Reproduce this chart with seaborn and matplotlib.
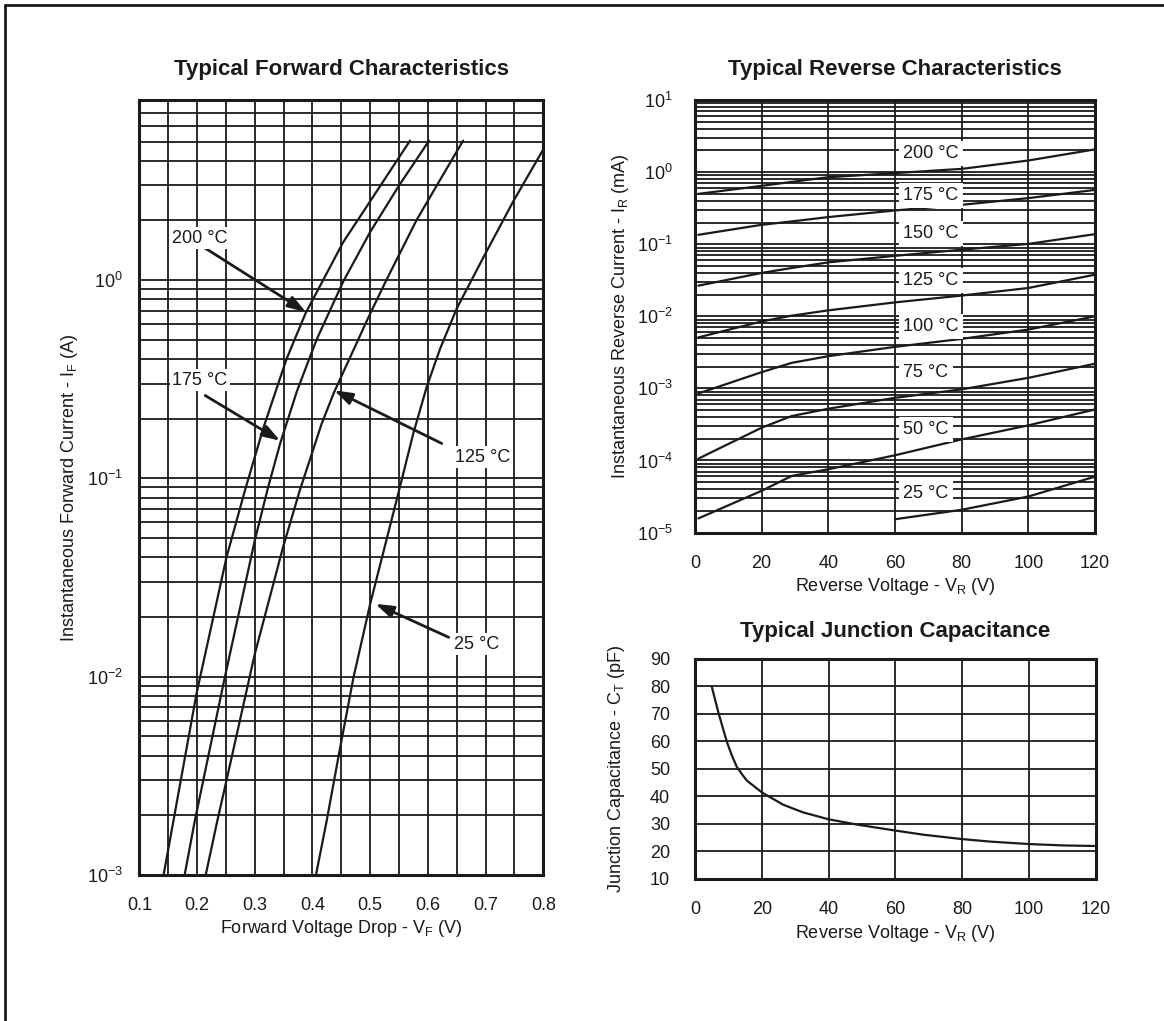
import matplotlib
matplotlib.use('Agg')
import matplotlib.pyplot as plt
import matplotlib.ticker as mticker
from matplotlib.lines import Line2D
import seaborn as sns

# forward characteristics, V_F (V) vs I_F (A)
vf_200 = [0.142, 0.159, 0.199, 0.251, 0.283, 0.315, 0.355, 0.388, 0.453, 0.500, 0.569]
if_200 = [0.001, 0.00187, 0.0082, 0.040, 0.087, 0.18, 0.40, 0.68, 1.55, 2.5, 5.05]
vf_175 = [0.1785, 0.196, 0.248, 0.300, 0.323, 0.344, 0.373, 0.407, 0.453, 0.500, 0.550, 0.602]
if_175 = [0.001, 0.00187, 0.0099, 0.0486, 0.090, 0.150, 0.275, 0.50, 0.98, 1.75, 3.0, 5.05]
vf_125 = [0.215, 0.235, 0.251, 0.300, 0.349, 0.378, 0.416, 0.437, 0.497, 0.528, 0.580, 0.621, 0.661]
if_125 = [0.001, 0.00187, 0.003, 0.013, 0.045, 0.087, 0.189, 0.27, 0.65, 1.0, 2.0, 3.2, 5.05]
vf_25 = [0.406, 0.4245, 0.448, 0.471, 0.500, 0.550, 0.575, 0.598, 0.621, 0.650, 0.696, 0.748, 0.800]
if_25 = [0.001, 0.00187, 0.0044, 0.0099, 0.0233, 0.087, 0.17, 0.29, 0.45, 0.72, 1.3, 2.5, 4.57]

# reverse characteristics, V_R (V) vs I_R (mA)
vr = [1, 20, 29, 40, 60, 80, 100, 120]
ir_200 = [0.5, 0.645, 0.733, 0.85, 0.97, 1.11, 1.45, 2.07]
ir_175 = [0.135, 0.186, 0.207, 0.238, 0.294, 0.352, 0.436, 0.567]
ir_150 = [0.0266, 0.040, 0.0468, 0.056, 0.069, 0.084, 0.101, 0.138]
ir_125 = [0.0051, 0.0085, 0.0102, 0.0121, 0.0156, 0.0194, 0.0247, 0.0378]
ir_100 = [0.00085, 0.00168, 0.00226, 0.0028, 0.00377, 0.00486, 0.00655, 0.010]
ir_75 = [0.000106, 0.000285, 0.000413, 0.000522, 0.00074, 0.00097, 0.0014, 0.0022]
ir_50 = [1.57e-5, 3.8e-5, 6.1e-5, 7.55e-5, 1.18e-4, 1.96e-4, 3.07e-4, 5.1e-4]
vr_25 = [60, 80, 100, 120]
ir_25 = [1.53e-5, 2.07e-5, 3.16e-5, 5.97e-5]
rev_labels = ['200 °C', '175 °C', '150 °C', '125 °C', '100 °C', '75 °C', '50 °C', '25 °C']
rev_label_y = [1.83, 0.469, 0.14, 0.0316, 0.00728, 0.00168, 2.7e-4, 3.5e-5]

# junction capacitance, V_R (V) vs C_T (pF)
vc = [5, 7, 9.5, 11, 12.5, 14, 15.5, 20, 26.4, 32.4, 40, 48.4, 60, 68.4, 80, 88.3, 100, 110.3, 119.5]
ct = [80, 70.5, 60, 55, 50.8, 48.2, 45.8, 41.5, 37.0, 34.2, 31.7, 29.8, 27.6, 26.1, 24.5, 23.6, 22.7, 22.2, 22.0]

sns.set_theme(style='white')
plt.rcParams['font.family'] = ['Liberation Sans', 'DejaVu Sans']
plt.rcParams['mathtext.fontset'] = 'custom'
plt.rcParams['mathtext.rm'] = 'Liberation Sans'
plt.rcParams['mathtext.it'] = 'Liberation Sans:italic'
plt.rcParams['mathtext.bf'] = 'Liberation Sans:bold'
plt.rcParams['text.color'] = 'k'
plt.rcParams['axes.labelcolor'] = 'k'
plt.rcParams['xtick.color'] = 'k'
plt.rcParams['ytick.color'] = 'k'

FS = 13
TFS = 16
fig = plt.figure(figsize=(11.64, 10.21), dpi=100)
ax1 = fig.add_axes([0.1197, 0.1430, 0.3471, 0.7591])
ax2 = fig.add_axes([0.5971, 0.4784, 0.3436, 0.4236])
ax3 = fig.add_axes([0.5971, 0.1391, 0.3442, 0.2155])


def style_axes(ax, xpad=16, ypad=14):
    for s in ax.spines.values():
        s.set_color('k')
        s.set_linewidth(2.2)
        s.set_visible(True)
    ax.tick_params(which='both', length=0, labelsize=FS, colors='k')
    ax.tick_params(axis='x', pad=xpad)
    ax.tick_params(axis='y', pad=ypad)
    ax.grid(True, which='both', color='k', lw=1.3)
    ax.set_axisbelow(True)


# ---- forward
for v, i in [(vf_200, if_200), (vf_175, if_175), (vf_125, if_125), (vf_25, if_25)]:
    sns.lineplot(x=v, y=i, ax=ax1, color='k', lw=1.6, sort=False)
ax1.set_yscale('log')
ax1.set_xlim(0.1, 0.8)
ax1.set_ylim(1e-3, 8.1)
ax1.xaxis.set_major_locator(mticker.MultipleLocator(0.1))
ax1.xaxis.set_minor_locator(mticker.MultipleLocator(0.05))
ax1.xaxis.set_major_formatter(mticker.FormatStrFormatter('%.1f'))
ax1.yaxis.set_major_locator(mticker.FixedLocator([1e-3, 1e-2, 1e-1, 1]))
ax1.yaxis.set_minor_locator(mticker.LogLocator(subs=range(2, 10), numticks=20))
ax1.yaxis.set_minor_formatter(mticker.NullFormatter())
style_axes(ax1, ypad=12)
ax1.set_title('Typical Forward Characteristics', fontsize=TFS, fontweight='bold', pad=18)
ax1.set_xlabel(r'Forward Voltage Drop - V$_\mathregular{F}$ (V)', fontsize=FS)
ax1.set_ylabel(r'Instantaneous Forward Current - I$_\mathregular{F}$ (A)', fontsize=FS)
ax1.xaxis.set_label_coords(0.5, -0.056)
ax1.yaxis.set_label_coords(-0.148, 0.5)

arrow = dict(arrowstyle='-|>,head_length=0.9,head_width=0.3', color='k', lw=2,
             shrinkA=0, shrinkB=0)
box = dict(fc='white', ec='none', pad=2)
fwd_labels = [('200 °C', (0.205, 1.63), (0.214, 1.45), (0.3886, 0.69)),
              ('175 °C', (0.205, 0.313), (0.214, 0.262), (0.344, 0.155)),
              ('125 °C', (0.694, 0.128), (0.624, 0.150), (0.4376, 0.278)),
              ('25 °C', (0.685, 0.0146), (0.636, 0.0158), (0.509, 0.0233))]
for txt, pos, tail, tip in fwd_labels:
    ax1.annotate('', xy=tip, xytext=tail, arrowprops=arrow, zorder=5)
    ax1.text(pos[0], pos[1], txt, ha='center', va='center', fontsize=FS,
             bbox=box, zorder=6)

# ---- reverse
for i in [ir_200, ir_175, ir_150, ir_125, ir_100, ir_75, ir_50]:
    sns.lineplot(x=vr, y=i, ax=ax2, color='k', lw=1.6, sort=False)
sns.lineplot(x=vr_25, y=ir_25, ax=ax2, color='k', lw=1.6, sort=False)
ax2.set_yscale('log')
ax2.set_xlim(0, 120)
ax2.set_ylim(1e-5, 10)
ax2.xaxis.set_major_locator(mticker.MultipleLocator(20))
ax2.yaxis.set_major_locator(mticker.LogLocator(numticks=20))
ax2.yaxis.set_minor_locator(mticker.LogLocator(subs=range(2, 10), numticks=20))
ax2.yaxis.set_minor_formatter(mticker.NullFormatter())
style_axes(ax2, ypad=16)
ax2.set_title('Typical Reverse Characteristics', fontsize=TFS, fontweight='bold', pad=18)
ax2.set_xlabel(r'Reverse Voltage - V$_\mathregular{R}$ (V)', fontsize=FS)
ax2.set_ylabel(r'Instantaneous Reverse Current - I$_\mathregular{R}$ (mA)', fontsize=FS)
ax2.xaxis.set_label_coords(0.5, -0.1)
ax2.yaxis.set_label_coords(-0.16, 0.5)
for txt, y in zip(rev_labels, rev_label_y):
    ax2.text(62.5, y, txt, ha='left', va='center', fontsize=FS,
             bbox=dict(fc='white', ec='none', pad=3), zorder=6)

# ---- capacitance
sns.lineplot(x=vc, y=ct, ax=ax3, color='k', lw=1.6, sort=False)
ax3.set_xlim(0, 120)
ax3.set_ylim(10, 90)
ax3.xaxis.set_major_locator(mticker.MultipleLocator(20))
ax3.yaxis.set_major_locator(mticker.MultipleLocator(10))
style_axes(ax3, ypad=18)
ax3.set_title('Typical Junction Capacitance', fontsize=TFS, fontweight='bold', pad=16)
ax3.set_xlabel(r'Reverse Voltage - V$_\mathregular{R}$ (V)', fontsize=FS)
ax3.set_ylabel(r'Junction Capacitance - C$_\mathregular{T}$ (pF)', fontsize=FS)
ax3.xaxis.set_label_coords(0.5, -0.2)
ax3.yaxis.set_label_coords(-0.17, 0.5)

# page frame (top and left edges)
fig.add_artist(Line2D([0.0043, 0.0043], [0, 0.995], color='k', lw=2))
fig.add_artist(Line2D([0.0043, 1], [0.995, 0.995], color='k', lw=2))

fig.savefig('out.png', dpi=100, facecolor='white')
